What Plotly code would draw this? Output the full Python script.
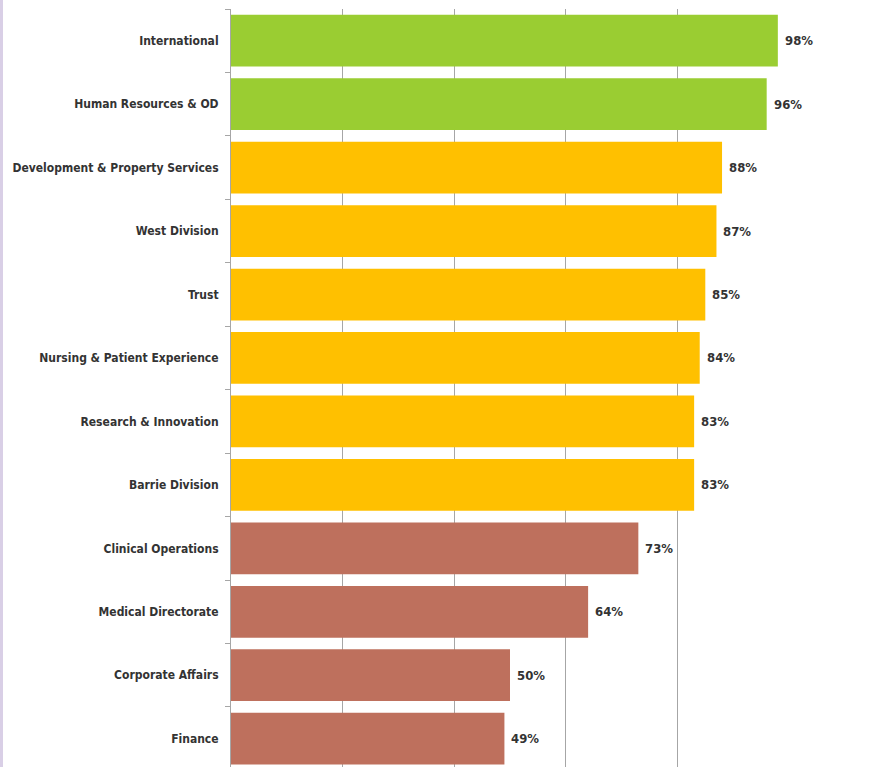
import plotly.graph_objects as go

# Survey completion by directorate (percent)
categories = [
    "International",
    "Human Resources & OD",
    "Development & Property Services",
    "West Division",
    "Trust",
    "Nursing & Patient Experience",
    "Research & Innovation",
    "Barrie Division",
    "Clinical Operations",
    "Medical Directorate",
    "Corporate Affairs",
    "Finance",
]
values = [98, 96, 88, 87, 85, 84, 83, 83, 73, 64, 50, 49]
bands = ["high", "high", "mid", "mid", "mid", "mid", "mid", "mid",
         "low", "low", "low", "low"]
x_ticks = [0, 20, 40, 60, 80, 100]

band_colors = {"high": "#9ACD32", "mid": "#FFC000", "low": "#BE705D"}
font_family = "DejaVu Sans Condensed, Liberation Sans Narrow, Arial Narrow, sans-serif"
text_color = "#333333"

W, H = 896, 767
M_L, M_R, M_T, M_B = 231, 107, 9, 0
band_px = 63.45
plot_h = H - M_T - M_B

fig = go.Figure(
    go.Bar(
        x=values,
        y=categories,
        orientation="h",
        marker=dict(color=[band_colors[b] for b in bands], line=dict(width=0)),
        hoverinfo="x+y",
    )
)

# value labels placed just past the end of each bar
for cat, v in zip(categories, values):
    fig.add_annotation(
        x=v, y=cat, text=f"<b>{v}%</b>", showarrow=False,
        xanchor="left", yanchor="middle", xshift=5,
        font=dict(family=font_family, size=13, color=text_color),
    )

# thin lavender stripe along the left edge of the page
plot_w = W - M_L - M_R
fig.add_shape(
    type="rect", xref="paper", yref="paper",
    x0=(0 - M_L) / plot_w, x1=(3 - M_L) / plot_w, y0=-0.05, y1=1.05,
    fillcolor="#D9CFE6", line=dict(width=0), layer="above",
)

fig.update_layout(
    width=W,
    height=H,
    margin=dict(l=M_L, r=M_R, t=M_T, b=M_B, pad=0, autoexpand=False),
    paper_bgcolor="white",
    plot_bgcolor="white",
    bargap=0.185,
    showlegend=False,
    xaxis=dict(
        range=[0, 100],
        tickvals=x_ticks,
        showticklabels=False,
        showgrid=True,
        gridcolor="#A6A6A6",
        gridwidth=1,
        zeroline=False,
        showline=False,
        automargin=False,
        fixedrange=True,
    ),
    yaxis=dict(
        type="category",
        categoryorder="array",
        categoryarray=categories,
        range=[-0.5 + plot_h / band_px, -0.5],
        showline=True,
        linecolor="#A6A6A6",
        linewidth=1,
        ticks="outside",
        tickson="boundaries",
        ticklen=5,
        tickcolor="#A6A6A6",
        ticklabelstandoff=9,
        tickfont=dict(family=font_family, size=12, color=text_color, weight="bold"),
        showgrid=False,
        automargin=False,
        fixedrange=True,
    ),
)

fig.write_html("out.html")
